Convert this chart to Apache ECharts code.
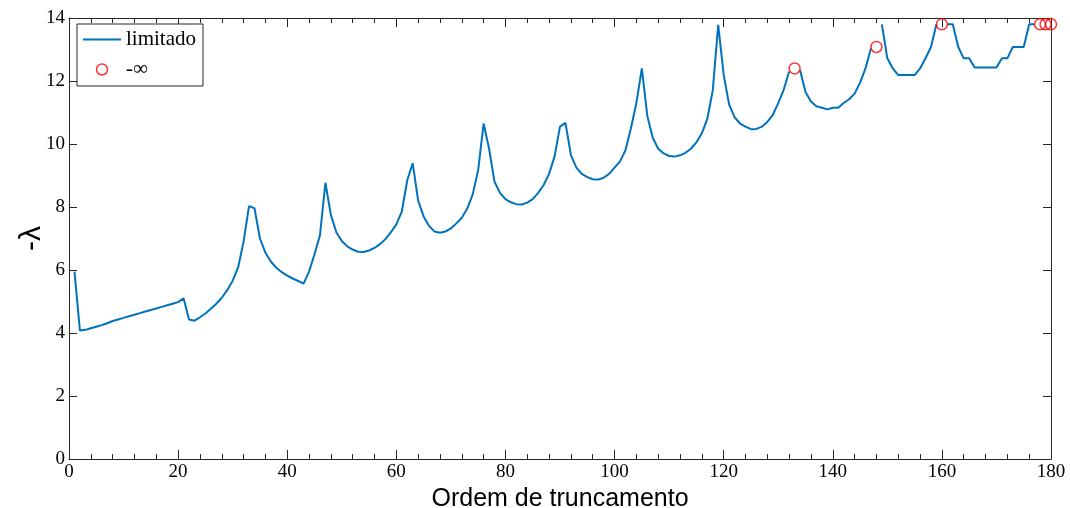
<!DOCTYPE html>
<html>
<head>
<meta charset="utf-8">
<script src="https://cdn.jsdelivr.net/npm/echarts@6/dist/echarts.min.js"></script>
<style>
html,body{margin:0;padding:0;background:#fff;}
#chart{width:1070px;height:508px;}
</style>
</head>
<body>
<div id="chart"></div>
<script>
// Truncation orders 1..180
const order = Array.from({length: 180}, (_, i) => i + 1);
// -lambda values ("limitado"); null where the value is -infinity
const limitado = [
  5.95, 4.08, 4.10, 4.15, 4.20, 4.25, 4.31, 4.38, 4.43, 4.48,
  4.53, 4.58, 4.63, 4.68, 4.73, 4.78, 4.83, 4.88, 4.93, 4.98,
  5.10, 4.43, 4.39, 4.50, 4.62, 4.77, 4.93, 5.12, 5.36, 5.66,
  6.08, 6.90, 8.03, 7.96, 7.00, 6.55, 6.27, 6.07, 5.93, 5.82,
  5.73, 5.65, 5.57, 5.95, 6.50, 7.10, 8.77, 7.75, 7.20, 6.92,
  6.75, 6.65, 6.58, 6.57, 6.62, 6.70, 6.82, 6.98, 7.20, 7.45,
  7.85, 8.85, 9.39, 8.20, 7.70, 7.40, 7.22, 7.18, 7.22, 7.32,
  7.48, 7.66, 7.95, 8.40, 9.17, 10.65, 9.85, 8.80, 8.45, 8.25,
  8.15, 8.09, 8.08, 8.14, 8.25, 8.45, 8.70, 9.05, 9.60, 10.55,
  10.67, 9.65, 9.25, 9.05, 8.95, 8.88, 8.87, 8.93, 9.05, 9.25,
  9.45, 9.80, 10.50, 11.30, 12.40, 10.90, 10.20, 9.85, 9.70, 9.62,
  9.60, 9.64, 9.72, 9.85, 10.05, 10.34, 10.80, 11.70, 13.78, 12.20,
  11.25, 10.85, 10.65, 10.55, 10.47, 10.48, 10.55, 10.70, 10.92, 11.30,
  11.72, 12.30, null, 12.35, 11.65, 11.35, 11.20, 11.15, 11.10, 11.15,
  11.15, 11.30, 11.42, 11.60, 11.95, 12.40, 13.04, null, 13.80, 12.72,
  12.40, 12.19, 12.19, 12.19, 12.19, 12.40, 12.72, 13.08, 13.80, null,
  13.80, 13.80, 13.08, 12.72, 12.72, 12.43, 12.43, 12.43, 12.43, 12.43,
  12.72, 12.72, 13.08, 13.08, 13.08, 13.80, 13.80, null, null, null
];
// -infinity markers
const infOrder = [133, 148, 160, 178, 179, 180];
const infValue = [12.4, 13.08, 13.8, 13.8, 13.8, 13.8];

const xMajorStep = 20;
const xMinorStep = 4;
const yStep = 2;

const lineData = order.map((x, i) => [x, limitado[i]]);
const infData = infOrder.map((x, i) => [x, infValue[i]]);

const axisColor = '#262626';
const serif = 'Liberation Serif';

function xAx(pos, step, tickLen, labels, showLine) {
  return {
    type: 'value', min: 0, max: 180, interval: step, position: pos,
    axisLine: {show: showLine, onZero: false, lineStyle: {color: axisColor, width: 1}},
    axisTick: {show: true, inside: true, length: tickLen, lineStyle: {color: axisColor}},
    axisLabel: labels ? {fontFamily: serif, fontSize: 19, color: '#000', margin: 4} : {show: false},
    splitLine: {show: false}
  };
}

const chart = echarts.init(document.getElementById('chart'), null, {renderer: 'canvas'});
const bottomMajor = xAx('bottom', xMajorStep, 9, true, true);
Object.assign(bottomMajor, {
  name: 'Ordem de truncamento', nameLocation: 'middle', nameGap: 28, nameMoveOverlap: false,
  nameTextStyle: {fontFamily: 'Liberation Sans', fontSize: 25, color: '#000'}
});
const baseY = {
  type: 'value', min: 0, max: 14, interval: yStep,
  axisLine: {show: true, onZero: false, lineStyle: {color: axisColor, width: 1}},
  axisTick: {show: true, inside: true, length: 8, lineStyle: {color: axisColor}},
  splitLine: {show: false}
};
chart.setOption({
  animation: false,
  backgroundColor: '#ffffff',
  grid: {left: 69, right: 19, top: 18, bottom: 49, containLabel: false, outerBoundsMode: 'none'},
  xAxis: [
    bottomMajor,
    xAx('bottom', xMinorStep, 5, false, false),
    xAx('top', xMajorStep, 9, false, true),
    xAx('top', xMinorStep, 5, false, false)
  ],
  yAxis: [
    Object.assign({}, baseY, {
      position: 'left',
      name: '-λ', nameLocation: 'middle', nameGap: 22, nameRotate: 90, nameMoveOverlap: false,
      nameTextStyle: {fontFamily: 'Liberation Sans', fontSize: 30, color: '#000'},
      axisLabel: {fontFamily: serif, fontSize: 19, color: '#000', margin: 4}
    }),
    Object.assign({}, baseY, {position: 'right', axisLabel: {show: false}})
  ],
  legend: {
    left: 77, top: 24, orient: 'vertical',
    backgroundColor: '#fff', borderColor: axisColor, borderWidth: 1,
    padding: [5, 7, 6, 6], itemGap: 9,
    itemWidth: 38, itemHeight: 11,
    textStyle: {fontFamily: serif, fontSize: 21, color: '#000', lineHeight: 20},
    data: [
      {name: 'limitado', icon: 'path://M0,0L38,0L38,2L0,2Z', itemStyle: {color: '#0072BD'}},
      {name: '-∞', icon: 'circle', itemStyle: {color: 'rgba(0,0,0,0)', borderColor: '#ff0000', borderWidth: 1.5}}
    ]
  },
  series: [
    {
      name: 'limitado', type: 'line', xAxisIndex: 0, yAxisIndex: 0,
      data: lineData, showSymbol: false, symbol: 'none', connectNulls: false,
      lineStyle: {color: '#0072BD', width: 2},
      itemStyle: {color: '#0072BD'}
    },
    {
      name: '-∞', type: 'scatter', xAxisIndex: 0, yAxisIndex: 0,
      data: infData, symbol: 'circle', symbolSize: 11,
      itemStyle: {color: 'rgba(0,0,0,0)', borderColor: '#ff0000', borderWidth: 1.5},
      z: 5
    }
  ]
});
</script>
</body>
</html>
